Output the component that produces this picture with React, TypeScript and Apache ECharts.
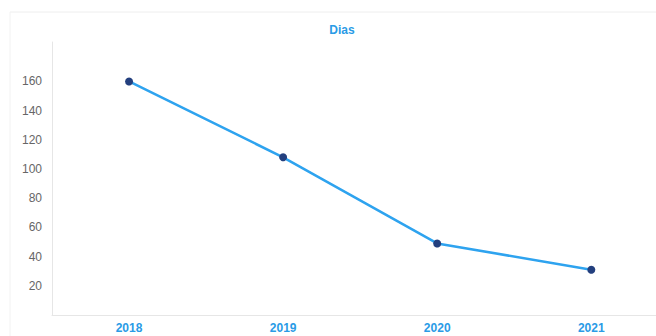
import React, { useEffect, useRef } from "react";
import * as echarts from "echarts";

const years = ["2018", "2019", "2020", "2021"];
const dias = [160, 108, 49, 31];
const title = "Dias";

export default function App() {
  const ref = useRef<HTMLDivElement>(null);
  useEffect(() => {
    const chart = echarts.init(ref.current!, null, { renderer: "svg" });
    chart.setOption({
      animation: false,
      backgroundColor: "#ffffff",
      title: {
        text: title,
        left: 337,
        top: 19,
        textAlign: "center",
        textStyle: { color: "#2a9be6", fontSize: 12, fontWeight: "bold", fontFamily: "Liberation Sans" },
      },
      graphic: [
        {
          type: "line",
          shape: { x1: 10, y1: 12, x2: 656, y2: 12 },
          style: { stroke: "#eeeeee", lineWidth: 1 },
        },
        {
          type: "line",
          shape: { x1: 10, y1: 12, x2: 10, y2: 336 },
          style: { stroke: "#f2f2f2", lineWidth: 1 },
        },
      ],
      grid: { left: 52, right: 0, top: 42, bottom: 21 },
      xAxis: {
        type: "value",
        min: -0.5,
        max: 3.42,
        axisLine: { show: true, onZero: false, lineStyle: { color: "#e6e6e6" } },
        axisTick: { show: false },
        splitLine: { show: false },
        axisLabel: {
          customValues: years.map((_, i) => i),
          formatter: (v: number) => years[Math.round(v)] ?? "",
          color: "#2a9be6",
          fontSize: 12,
          fontWeight: "bold",
          fontFamily: "Liberation Sans",
          margin: 7,
        },
      },
      yAxis: {
        type: "value",
        min: 0,
        max: 187,
        interval: 20,
        axisLine: { show: true, onZero: false, lineStyle: { color: "#e6e6e6" } },
        axisTick: { show: false },
        splitLine: { show: false },
        axisLabel: {
          formatter: (v: number) => (v === 0 || v >= 180 ? "" : String(v)),
          color: "#666666",
          fontSize: 12,
          fontFamily: "Liberation Sans",
          margin: 10,
        },
      },
      series: [
        {
          type: "line",
          data: dias.map((d, i) => [i, d]),
          symbol: "circle",
          symbolSize: 8,
          lineStyle: { color: "#2ea3ef", width: 2.5 },
          itemStyle: { color: "#233f7e" },
        },
      ],
    });
    return () => chart.dispose();
  }, []);
  return (
    <div
      ref={ref}
      style={{ position: "fixed", left: 0, top: 0, width: 656, height: 336 }}
    />
  );
}
